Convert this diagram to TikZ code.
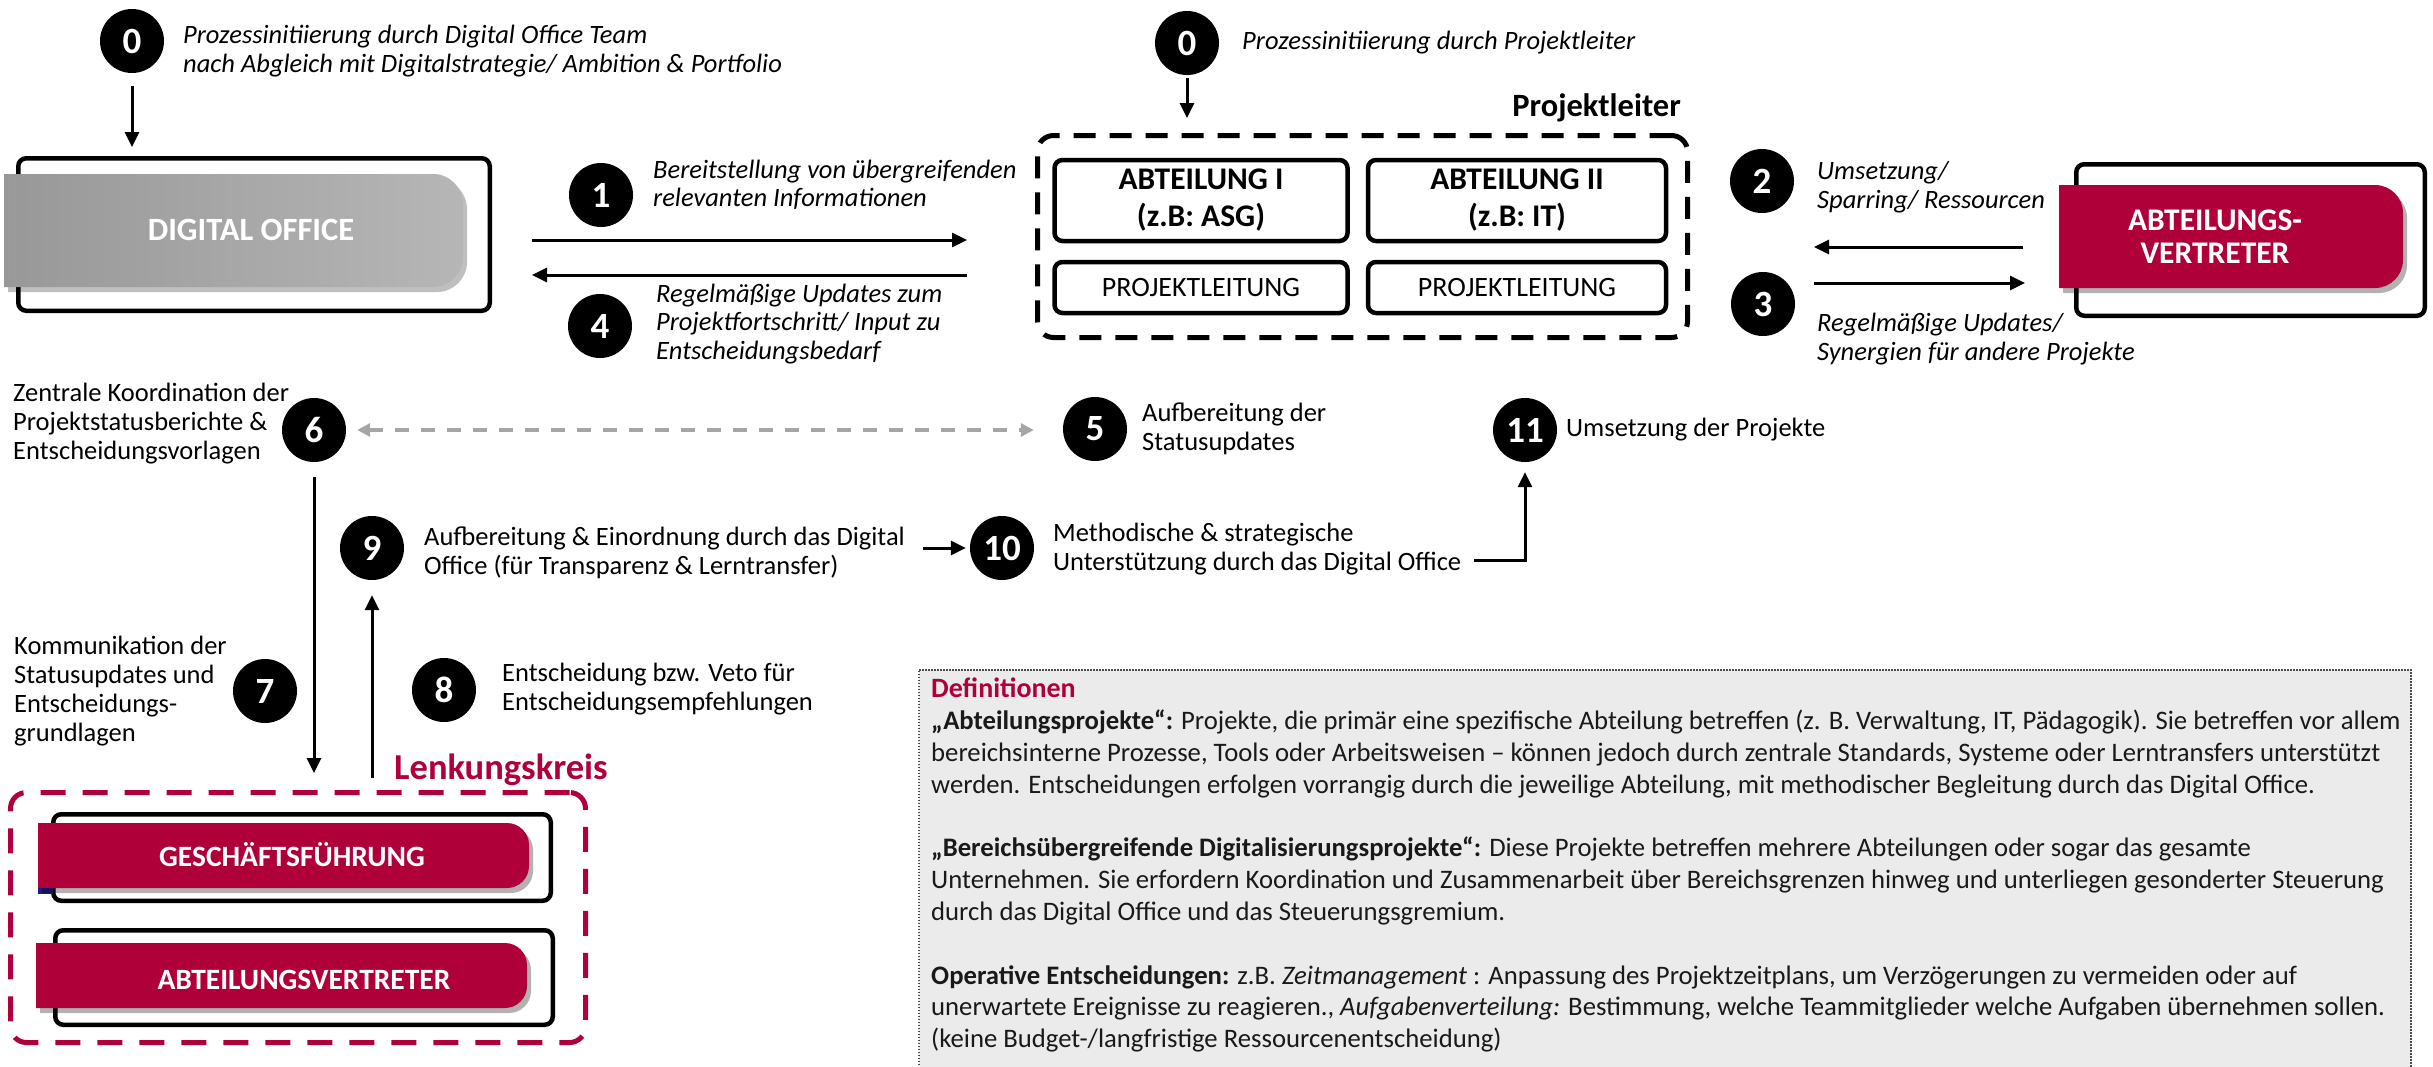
\documentclass[tikz,border=0pt]{standalone}
\usepackage{fontspec}
\setmainfont{Carlito}
\usetikzlibrary{arrows.meta,shadows}
\definecolor{crimson}{RGB}{176,0,58}
\definecolor{pillgrayL}{RGB}{152,152,152}
\definecolor{pillgrayR}{RGB}{182,182,182}
\definecolor{defgray}{RGB}{235,235,235}
\definecolor{dashgray}{RGB}{166,166,166}
\definecolor{deftext}{RGB}{25,25,25}
\definecolor{navymark}{RGB}{20,30,140}
\begin{document}
\begin{tikzpicture}[x=1pt,y=-1pt,
  num/.style={circle,fill=black,text=white,minimum size=64pt,inner sep=0pt,
    font=\fontsize{37}{37}\selectfont\bfseries},
  lbl/.style={anchor=west,align=left,inner sep=0pt,font=\fontsize{26.5}{29}\selectfont},
  ilbl/.style={anchor=west,align=left,inner sep=0pt,font=\fontsize{26.5}{28.5}\selectfont\itshape},
  frame/.style={draw=black,line width=4.5pt,rounded corners=8pt,inner sep=0pt},
  plframe/.style={frame,align=center,font=\fontsize{31.5}{37}\selectfont\bfseries},
  leitframe/.style={frame,font=\fontsize{28}{28}\selectfont},
  dashframe/.style={draw=black,line width=5pt,dash pattern=on 22pt off 14pt,rounded corners=16pt,inner sep=0pt},
  arr/.style={line width=3pt,-{Triangle[length=15pt,width=14pt]}},
  garr/.style={draw=dashgray,line width=3.5pt,dash pattern=on 14pt off 12pt,
    {Triangle[length=13pt,width=13pt]}-{Triangle[length=13pt,width=13pt]}},
  pillred/.style={fill=crimson,drop shadow={shadow xshift=4pt,shadow yshift=-5pt,fill=black,opacity=0.3}},
  pilltext/.style={text=white,font=\fontsize{29.5}{33}\selectfont\bfseries,align=center,inner sep=0pt}
]
\useasboundingbox (0,0) rectangle (2433,1066);

% ---------- Digital Office ----------
\node[frame,minimum width=471.5pt,minimum height=152.5pt] (dobox) at (254,234.5) {};
\path[left color=pillgrayL,right color=pillgrayR,
      drop shadow={shadow xshift=4pt,shadow yshift=-5pt,fill=black,opacity=0.25}]
  (4,174) -- (433,174) arc(-90:0:30) -- (463,257) arc(0:90:30) -- (4,287) -- cycle;
\node[pilltext,font=\fontsize{32.5}{32.5}\selectfont\bfseries] (dolbl) at (251,230) {DIGITAL OFFICE};

\node[num] (c0a) at (132,41) {0};
\node[ilbl] (t0a) at (183,51) {Prozessinitiierung durch Digital Office Team\\nach Abgleich mit Digitalstrategie/ Ambition \& Portfolio};
\draw[arr,shorten <=13pt,shorten >=9pt] (c0a.south) -- (c0a.south |- dobox.north);

% ---------- Projektleiter ----------
\node[dashframe,minimum width=650pt,minimum height=202pt] (plbox) at (1362.5,236.5) {};
\node[anchor=east,inner sep=0pt,font=\fontsize{32.5}{32.5}\selectfont\bfseries] (pltitle) at (1681,108) {Projektleiter};
\node[plframe,minimum width=293pt,minimum height=81pt] (ab1) at (1201,200.5) {ABTEILUNG I\\(z.B: ASG)};
\node[plframe,minimum width=298pt,minimum height=81pt] (ab2) at (1517,200.5) {ABTEILUNG II\\(z.B: IT)};
\node[leitframe,minimum width=293pt,minimum height=51pt] (pl1) at (1201,287.5) {PROJEKTLEITUNG};
\node[leitframe,minimum width=298pt,minimum height=51pt] (pl2) at (1517,287.5) {PROJEKTLEITUNG};

\node[num] (c0b) at (1187,43) {0};
\node[ilbl] (t0b) at (1242,43) {Prozessinitiierung durch Projektleiter};
\draw[arr,shorten <=3pt,shorten >=15pt] (c0b.south) -- (c0b.south |- plbox.north);

% ---------- steps 1 and 4 ----------
\node[num] (c1) at (601,195) {1};
\node[ilbl] (t1) at (653,185) {Bereitstellung von übergreifenden\\relevanten Informationen};
\node[num] (c4) at (600,326) {4};
\node[ilbl] (t4) at (656,324) {Regelmäßige Updates zum\\Projektfortschritt/ Input zu\\Entscheidungsbedarf};
\draw[arr,shorten <=40pt,shorten >=68pt] (dobox.east |- 0,240) -- (plbox.west |- 0,240);
\draw[arr,shorten <=68pt,shorten >=40pt] (plbox.west |- 0,275) -- (dobox.east |- 0,275);

% ---------- Abteilungsvertreter (right) ----------
\node[frame,minimum width=348.5pt,minimum height=151.5pt] (avbox) at (2250.5,240) {};
\path[pillred] (2059,185) -- (2375,185) arc(-90:0:28) -- (2403,260) arc(0:90:28) -- (2059,288) -- cycle;
\node[pilltext,font=\fontsize{31.5}{33}\selectfont\bfseries] (avlbl) at (2215,237) {ABTEILUNGS-\\VERTRETER};

\node[num] (c2) at (1762,181) {2};
\node[ilbl] (t2) at (1817,187) {Umsetzung/\\Sparring/ Ressourcen};
\node[num] (c3) at (1763,304) {3};
\node[ilbl] (t3) at (1817,339) {Regelmäßige Updates/\\Synergien für andere Projekte};
\draw[arr,shorten <=51pt,shorten >=124pt] (avbox.west |- 0,247) -- (plbox.east |- 0,247);
\draw[arr,shorten <=124pt,shorten >=49pt] (plbox.east |- 0,283) -- (avbox.west |- 0,283);

% ---------- steps 5, 6, 9, 10, 11 ----------
\node[num] (c6) at (314,430) {6};
\node[lbl] (t6) at (13,424) {Zentrale Koordination der\\Projektstatusberichte \&\\Entscheidungsvorlagen};
\node[num] (c5) at (1095,429) {5};
\node[lbl] (t5) at (1142,429) {Aufbereitung der\\Statusupdates};
\draw[garr,shorten <=11pt,shorten >=29pt] (c6.east) -- (c5.west |- c6.east);

\node[num] (c11) at (1525,430) {11};
\node[lbl] (t11) at (1566,430) {Umsetzung der Projekte};

\node[num] (c9) at (372,548) {9};
\node[lbl] (t9) at (424,553) {Aufbereitung \& Einordnung durch das Digital\\Office (für Transparenz \& Lerntransfer)};
\node[num] (c10) at (1002,548) {10};
\node[lbl] (t10) at (1053,549) {Methodische \& strategische\\Unterstützung durch das Digital Office};
\coordinate (a9) at (923,548);
\draw[arr,shorten >=4pt] (a9) -- (c10.west);
\coordinate (a10) at (1474,560);
\draw[arr,shorten >=10pt] (a10) -| (c11.south);

% ---------- Lenkungskreis ----------
\node[draw=crimson,line width=5pt,dash pattern=on 25pt off 17pt,rounded corners=16pt,
      minimum width=575pt,minimum height=250pt,inner sep=0pt] (lkbox) at (298,917.5) {};
\node[anchor=west,inner sep=0pt,text=crimson,font=\fontsize{36.5}{36.5}\selectfont\bfseries] (lktitle) at (394,770) {Lenkungskreis};

\node[frame,minimum width=497.5pt,minimum height=86.5pt] (gfbox) at (302,857.5) {};
\fill[navymark] (38,880) rectangle (53,894);
\path[pillred] (38,823) -- (507,823) arc(-90:0:22) -- (529,866) arc(0:90:22) -- (38,888) -- cycle;
\node[pilltext] (gflbl) at (292,855) {GESCHÄFTSFÜHRUNG};

\node[frame,minimum width=497.5pt,minimum height=94.5pt] (avbbox) at (304,977.5) {};
\path[pillred] (36,943) -- (505,943) arc(-90:0:22) -- (527,986) arc(0:90:22) -- (36,1008) -- cycle;
\node[pilltext] (avblbl) at (304,980) {ABTEILUNGSVERTRETER};

\node[num] (c7) at (265,691) {7};
\node[lbl] (t7) at (14,691) {Kommunikation der\\Statusupdates und\\Entscheidungs-\\grundlagen};
\node[num] (c8) at (444,690) {8};
\node[lbl] (t8) at (502,689) {Entscheidung bzw. Veto für\\Entscheidungsempfehlungen};

\draw[arr,shorten <=15pt,shorten >=17pt] (c6.south) -- (c6.south |- lkbox.north);
\draw[arr,shorten <=12pt,shorten >=15pt] (c9.south |- lkbox.north) -- (c9.south);

% ---------- Definitionen ----------
\begin{scope}
\clip (0,0) rectangle (2433,1066);
\node[draw=black!70,fill=defgray,line width=1.5pt,dash pattern=on 1.5pt off 1.5pt,
      minimum width=1492pt,minimum height=420pt,inner sep=0pt,anchor=north west] (defbox) at (918,669) {};
\end{scope}
\node[anchor=north west,align=left,inner sep=0pt,text=deftext,
      font=\fontsize{26.7}{31.8}\selectfont] (deftext) at (931,678)
{{\color{crimson}\bfseries\fontsize{28}{31.8}\selectfont Definitionen}\\
\textbf{„Abteilungsprojekte“:} Projekte, die primär eine spezifische Abteilung betreffen (z. B. Verwaltung, IT, Pädagogik). Sie betreffen vor allem\\
bereichsinterne Prozesse, Tools oder Arbeitsweisen – können jedoch durch zentrale Standards, Systeme oder Lerntransfers unterstützt\\
werden. Entscheidungen erfolgen vorrangig durch die jeweilige Abteilung, mit methodischer Begleitung durch das Digital Office.\\
\mbox{}\\
\textbf{„Bereichsübergreifende Digitalisierungsprojekte“:} Diese Projekte betreffen mehrere Abteilungen oder sogar das gesamte\\
Unternehmen. Sie erfordern Koordination und Zusammenarbeit über Bereichsgrenzen hinweg und unterliegen gesonderter Steuerung\\
durch das Digital Office und das Steuerungsgremium.\\
\mbox{}\\
\textbf{Operative Entscheidungen:} z.B. \textit{Zeitmanagement} : Anpassung des Projektzeitplans, um Verzögerungen zu vermeiden oder auf\\
unerwartete Ereignisse zu reagieren., \textit{Aufgabenverteilung:} Bestimmung, welche Teammitglieder welche Aufgaben übernehmen sollen.\\
(keine Budget-/langfristige Ressourcenentscheidung)};
\end{tikzpicture}
\end{document}
